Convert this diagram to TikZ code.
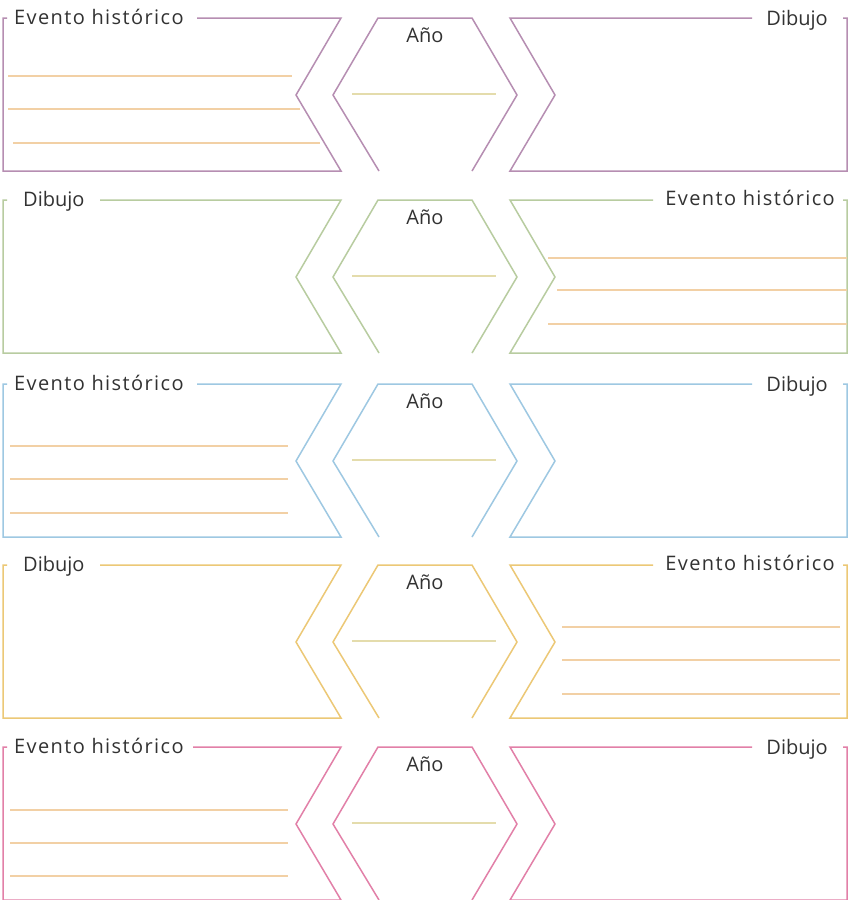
\documentclass[tikz,border=0pt]{standalone}
\usepackage{fontspec}
\setmainfont{Open Sans}
\definecolor{cPur}{RGB}{182,142,178}
\definecolor{cGre}{RGB}{184,204,160}
\definecolor{cBlu}{RGB}{158,200,226}
\definecolor{cYel}{RGB}{236,200,118}
\definecolor{cPin}{RGB}{226,128,168}
\definecolor{cLin}{RGB}{242,208,165}
\definecolor{cYear}{RGB}{228,220,172}
\definecolor{txtC}{RGB}{50,50,50}
\newcommand\evtxt{{\addfontfeature{LetterSpace=7}Evento histórico}}
\newcommand\hexpart[3]{%
  \draw[frame,draw=#2] (379,{#1+153}) -- (333,{#1+77}) -- (378,#1) -- (472,#1) -- (517,{#1+77}) -- (472,{#1+153});
  \draw[yline] (352,{#1+76}) -- (496,{#1+76});
  \node[lbl,anchor=base] (#3) at (425,{#1+24}) {Año};}
\newcommand\leftpart[3]{%
  \draw[frame,draw=#2] (#3,#1) -- (341,#1) -- (296,{#1+77}) -- (341,{#1+153}) -- (3,{#1+153}) -- (3,#1) -- (7,#1);}
\newcommand\rightpart[3]{%
  \draw[frame,draw=#2] (#3,#1) -- (510,#1) -- (555,{#1+77}) -- (510,{#1+153}) -- (847,{#1+153}) -- (847,#1) -- (843,#1);}
\begin{document}
\begin{tikzpicture}[x=1pt,y=-1pt,
  frame/.style={line width=1.5pt,line join=miter},
  wline/.style={draw=cLin,line width=1.1pt},
  yline/.style={draw=cYear,line width=1.2pt},
  lbl/.style={font=\fontsize{20}{23}\selectfont,text=txtC,inner sep=0pt}]
\useasboundingbox[fill=white] (0,0) rectangle (851,900);

% Row 1 (purple)
\node[lbl,anchor=base west] (ev1) at (14,24) {\evtxt};
\node[lbl,anchor=base east] (di1) at (828,25) {Dibujo};
\leftpart{18}{cPur}{197}
\rightpart{18}{cPur}{752}
\hexpart{18}{cPur}{an1}
\draw[wline] (8,76) -- (292,76);
\draw[wline] (8,109) -- (300,109);
\draw[wline] (13,143) -- (320,143);

% Row 2 (green)
\node[lbl,anchor=base west] (di2) at (23,206) {Dibujo};
\node[lbl,anchor=base east] (ev2) at (835,205) {\evtxt};
\leftpart{200}{cGre}{100}
\rightpart{200}{cGre}{653}
\hexpart{200}{cGre}{an2}
\draw[wline] (548,258) -- (847,258);
\draw[wline] (557,290) -- (847,290);
\draw[wline] (548,324) -- (847,324);

% Row 3 (blue)
\node[lbl,anchor=base west] (ev3) at (14,390) {\evtxt};
\node[lbl,anchor=base east] (di3) at (828,391) {Dibujo};
\leftpart{384}{cBlu}{197}
\rightpart{384}{cBlu}{752}
\hexpart{384}{cBlu}{an3}
\draw[wline] (10,446) -- (288,446);
\draw[wline] (10,479) -- (288,479);
\draw[wline] (10,513) -- (288,513);

% Row 4 (yellow)
\node[lbl,anchor=base west] (di4) at (23,571) {Dibujo};
\node[lbl,anchor=base east] (ev4) at (835,570) {\evtxt};
\leftpart{565}{cYel}{100}
\rightpart{565}{cYel}{653}
\hexpart{565}{cYel}{an4}
\draw[wline] (562,627) -- (840,627);
\draw[wline] (562,660) -- (840,660);
\draw[wline] (562,694) -- (840,694);

% Row 5 (pink)
\node[lbl,anchor=base west] (ev5) at (14,753) {\evtxt};
\node[lbl,anchor=base east] (di5) at (828,754) {Dibujo};
\leftpart{747}{cPin}{193}
\rightpart{747}{cPin}{752}
\hexpart{747}{cPin}{an5}
\draw[wline] (10,810) -- (288,810);
\draw[wline] (10,843) -- (288,843);
\draw[wline] (10,876) -- (288,876);
\end{tikzpicture}
\end{document}
